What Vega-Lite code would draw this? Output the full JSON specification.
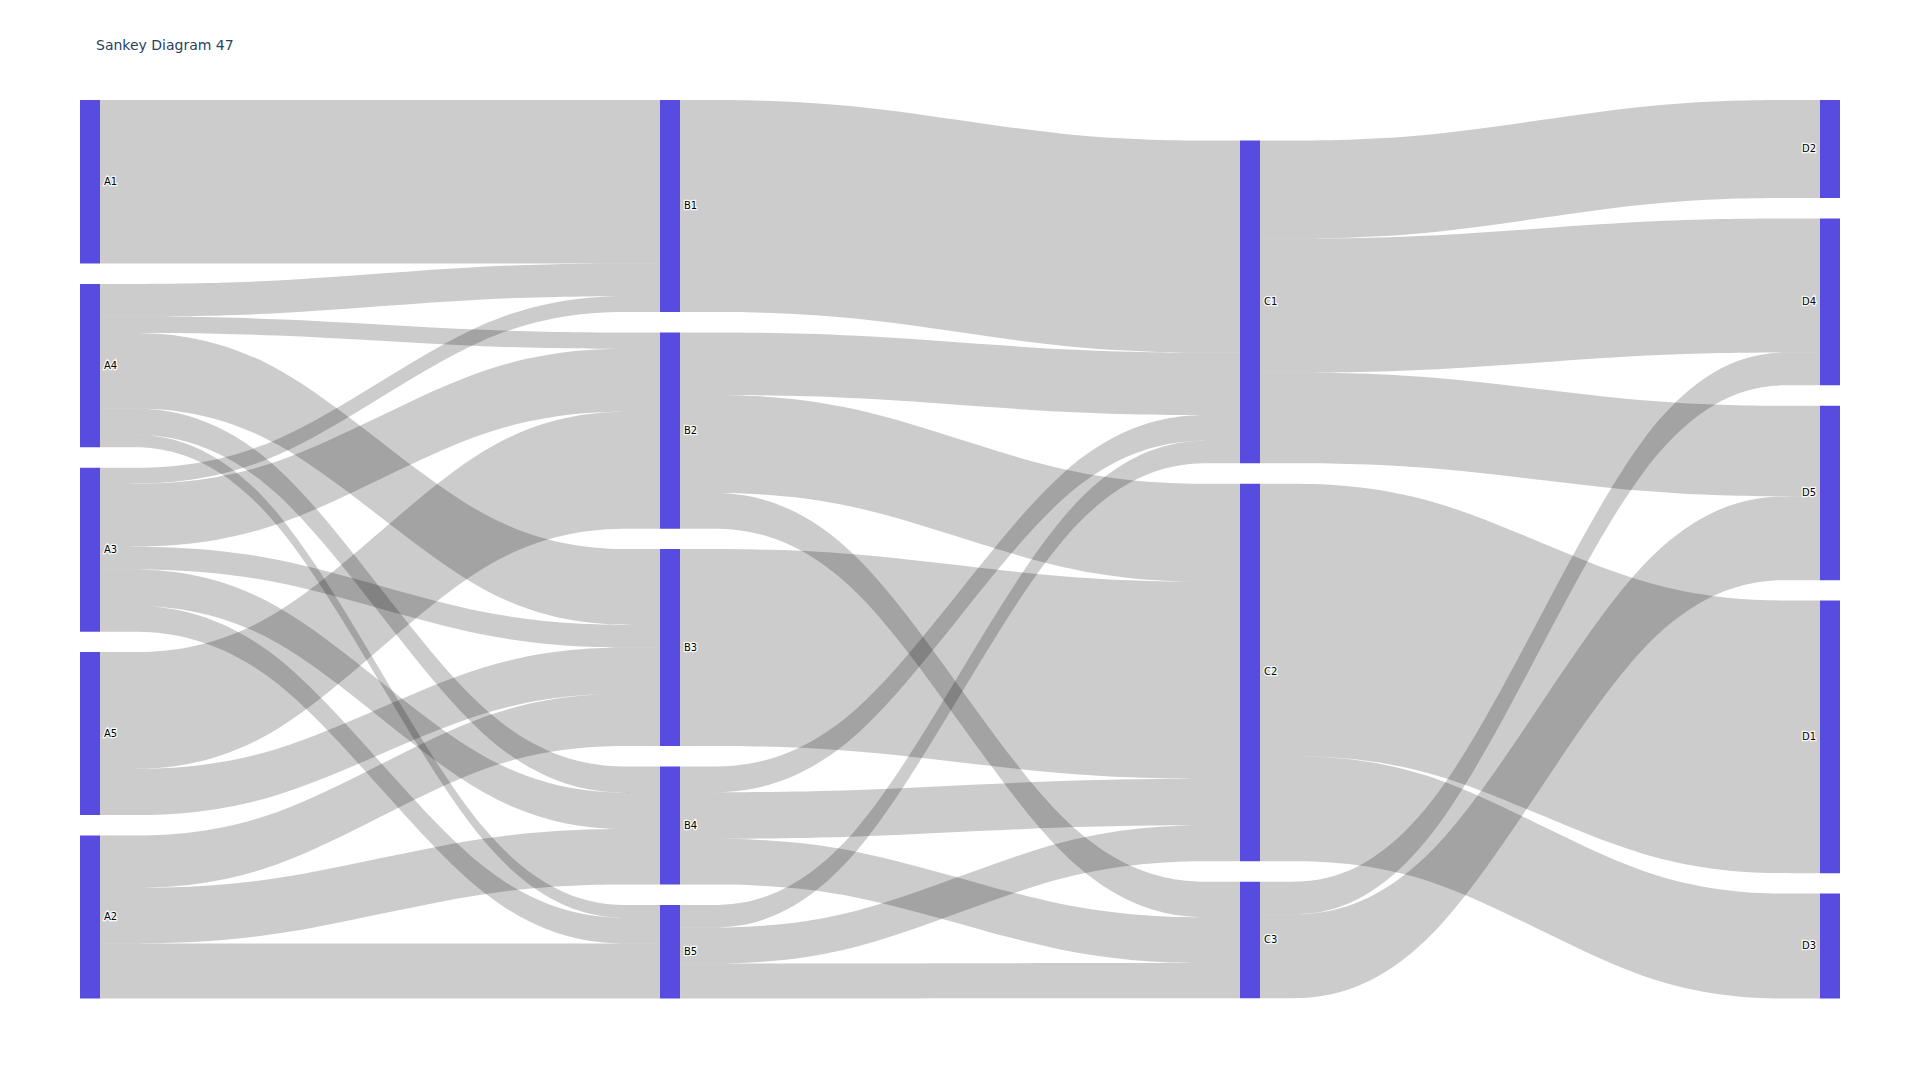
{
  "$schema": "https://vega.github.io/schema/vega-lite/v6.json",
  "width": 1760,
  "height": 899,
  "autosize": {"type": "none"},
  "padding": {"left": 80, "top": 100, "right": 80, "bottom": 81},
  "background": "white",
  "view": {"stroke": null},
  "title": {"text": "Sankey Diagram 47", "anchor": "start", "frame": "group", "offset": 36, "baseline": "alphabetic", "dx": 16, "font": "DejaVu Sans", "fontSize": 14, "fontWeight": "normal", "color": "#2a3f5f"},
  "datasets": {
    "nodes": [
      {"name": "A1", "col": 0, "ord": 1},
      {"name": "A4", "col": 0, "ord": 2},
      {"name": "A3", "col": 0, "ord": 3},
      {"name": "A5", "col": 0, "ord": 4},
      {"name": "A2", "col": 0, "ord": 5},
      {"name": "B1", "col": 1, "ord": 1},
      {"name": "B2", "col": 1, "ord": 2},
      {"name": "B3", "col": 1, "ord": 3},
      {"name": "B4", "col": 1, "ord": 4},
      {"name": "B5", "col": 1, "ord": 5},
      {"name": "C1", "col": 2, "ord": 1},
      {"name": "C2", "col": 2, "ord": 2},
      {"name": "C3", "col": 2, "ord": 3},
      {"name": "D2", "col": 3, "ord": 1},
      {"name": "D4", "col": 3, "ord": 2},
      {"name": "D5", "col": 3, "ord": 3},
      {"name": "D1", "col": 3, "ord": 4},
      {"name": "D3", "col": 3, "ord": 5}
    ],
    "links": [
      {"source": "A1", "target": "B1", "value": 20.0},
      {"source": "A4", "target": "B1", "value": 4.0},
      {"source": "A4", "target": "B2", "value": 2.0},
      {"source": "A4", "target": "B3", "value": 9.25},
      {"source": "A4", "target": "B4", "value": 3.2},
      {"source": "A4", "target": "B5", "value": 1.55},
      {"source": "A3", "target": "B1", "value": 1.95},
      {"source": "A3", "target": "B2", "value": 7.7},
      {"source": "A3", "target": "B3", "value": 2.8},
      {"source": "A3", "target": "B4", "value": 4.45},
      {"source": "A3", "target": "B5", "value": 3.15},
      {"source": "A5", "target": "B2", "value": 14.3},
      {"source": "A5", "target": "B3", "value": 5.65},
      {"source": "A2", "target": "B3", "value": 6.4},
      {"source": "A2", "target": "B4", "value": 6.8},
      {"source": "A2", "target": "B5", "value": 6.75},
      {"source": "B1", "target": "C1", "value": 25.95},
      {"source": "B2", "target": "C1", "value": 7.65},
      {"source": "B2", "target": "C2", "value": 12.0},
      {"source": "B2", "target": "C3", "value": 4.35},
      {"source": "B3", "target": "C2", "value": 24.1},
      {"source": "B4", "target": "C1", "value": 3.15},
      {"source": "B4", "target": "C2", "value": 5.7},
      {"source": "B4", "target": "C3", "value": 5.6},
      {"source": "B5", "target": "C1", "value": 2.75},
      {"source": "B5", "target": "C2", "value": 4.4},
      {"source": "B5", "target": "C3", "value": 4.3},
      {"source": "C1", "target": "D2", "value": 12.0},
      {"source": "C1", "target": "D4", "value": 16.4},
      {"source": "C1", "target": "D5", "value": 11.1},
      {"source": "C2", "target": "D1", "value": 33.35},
      {"source": "C2", "target": "D3", "value": 12.85},
      {"source": "C3", "target": "D4", "value": 4.0},
      {"source": "C3", "target": "D5", "value": 10.25}
    ]
  },
  "data": {"name": "links"},
  "transform": [
    {"lookup": "source", "from": {"data": {"name": "nodes"}, "key": "name", "fields": ["col", "ord"]}, "as": ["scol", "sord"]},
    {"lookup": "target", "from": {"data": {"name": "nodes"}, "key": "name", "fields": ["col", "ord"]}, "as": ["tcol", "tord"]},
    {"stack": "value", "groupby": ["scol"], "sort": [{"field": "sord", "order": "ascending"}, {"field": "tord", "order": "ascending"}], "as": ["sy0", "sy1"]},
    {"stack": "value", "groupby": ["tcol"], "sort": [{"field": "tord", "order": "ascending"}, {"field": "sord", "order": "ascending"}], "as": ["ty0", "ty1"]},
    {"calculate": "(datum.sord - 1) * 2.5 + (datum.scol == 2 ? 4.95 : 0)", "as": "soff"},
    {"calculate": "(datum.tord - 1) * 2.5 + (datum.tcol == 2 ? 4.95 : 0)", "as": "toff"},
    {"calculate": "datum.sy0 + datum.soff", "as": "sy0g"},
    {"calculate": "datum.sy1 + datum.soff", "as": "sy1g"},
    {"calculate": "datum.ty0 + datum.toff", "as": "ty0g"},
    {"calculate": "datum.ty1 + datum.toff", "as": "ty1g"},
    {"calculate": "datum.source + '-' + datum.target", "as": "lid"}
  ],
  "layer": [
    {
      "transform": [
        {"calculate": "datum.scol + 0.034483", "as": "x0"},
        {"calculate": "datum.tcol", "as": "x3"},
        {"calculate": "datum.x0 + 0.3 * (datum.x3 - datum.x0)", "as": "x1"},
        {"calculate": "datum.x3 - 0.3 * (datum.x3 - datum.x0)", "as": "x2"},
        {"fold": ["x0", "x1", "x2", "x3"], "as": ["k", "xv"]},
        {"calculate": "(datum.k == 'x0' || datum.k == 'x1') ? datum.sy0g : datum.ty0g", "as": "yt"},
        {"calculate": "(datum.k == 'x0' || datum.k == 'x1') ? datum.sy1g : datum.ty1g", "as": "yb"}
      ],
      "mark": {"type": "area", "interpolate": "basis", "fill": "#000000", "fillOpacity": 0.2, "stroke": null},
      "encoding": {
        "x": {"field": "xv", "type": "quantitative", "scale": {"domain": [0, 3.034483], "nice": false, "zero": false}, "axis": null},
        "y": {"field": "yt", "type": "quantitative", "scale": {"domain": [0, 110], "reverse": true, "nice": false, "zero": false}, "axis": null, "stack": null},
        "y2": {"field": "yb"},
        "detail": {"field": "lid"}
      }
    },
    {
      "transform": [
        {"fold": ["source", "target"], "as": ["end", "node"]},
        {"calculate": "datum.end == 'source' ? datum.sy0g : datum.ty0g", "as": "ey0"},
        {"calculate": "datum.end == 'source' ? datum.sy1g : datum.ty1g", "as": "ey1"},
        {"calculate": "datum.end == 'source' ? datum.scol : datum.tcol", "as": "ecol"},
        {"aggregate": [{"op": "min", "field": "ey0", "as": "ny0"}, {"op": "max", "field": "ey1", "as": "ny1"}], "groupby": ["node", "ecol"]},
        {"calculate": "datum.ecol + 0.034483", "as": "ncolR"},
        {"calculate": "(datum.ny0 + datum.ny1) / 2", "as": "nmid"}
      ],
      "layer": [
        {
          "mark": {"type": "rect", "fill": "#584be0"},
          "encoding": {
            "x": {"field": "ecol", "type": "quantitative", "axis": null},
            "x2": {"field": "ncolR"},
            "y": {"field": "ny0", "type": "quantitative", "axis": null},
            "y2": {"field": "ny1"}
          }
        },
        {
          "transform": [{"filter": "datum.ecol < 3"}],
          "mark": {"type": "text", "align": "left", "baseline": "middle", "dx": 4, "font": "DejaVu Sans", "fontSize": 10, "fill": "white", "stroke": "white", "strokeWidth": 2.5, "strokeOpacity": 0.9},
          "encoding": {
            "x": {"field": "ncolR", "type": "quantitative"},
            "y": {"field": "nmid", "type": "quantitative"},
            "text": {"field": "node"}
          }
        },
        {
          "transform": [{"filter": "datum.ecol < 3"}],
          "mark": {"type": "text", "align": "left", "baseline": "middle", "dx": 4, "font": "DejaVu Sans", "fontSize": 10, "fill": "black"},
          "encoding": {
            "x": {"field": "ncolR", "type": "quantitative"},
            "y": {"field": "nmid", "type": "quantitative"},
            "text": {"field": "node"}
          }
        },
        {
          "transform": [{"filter": "datum.ecol == 3"}],
          "mark": {"type": "text", "align": "right", "baseline": "middle", "dx": -4, "font": "DejaVu Sans", "fontSize": 10, "fill": "white", "stroke": "white", "strokeWidth": 2.5, "strokeOpacity": 0.9},
          "encoding": {
            "x": {"field": "ecol", "type": "quantitative"},
            "y": {"field": "nmid", "type": "quantitative"},
            "text": {"field": "node"}
          }
        },
        {
          "transform": [{"filter": "datum.ecol == 3"}],
          "mark": {"type": "text", "align": "right", "baseline": "middle", "dx": -4, "font": "DejaVu Sans", "fontSize": 10, "fill": "black"},
          "encoding": {
            "x": {"field": "ecol", "type": "quantitative"},
            "y": {"field": "nmid", "type": "quantitative"},
            "text": {"field": "node"}
          }
        }
      ]
    }
  ]
}
